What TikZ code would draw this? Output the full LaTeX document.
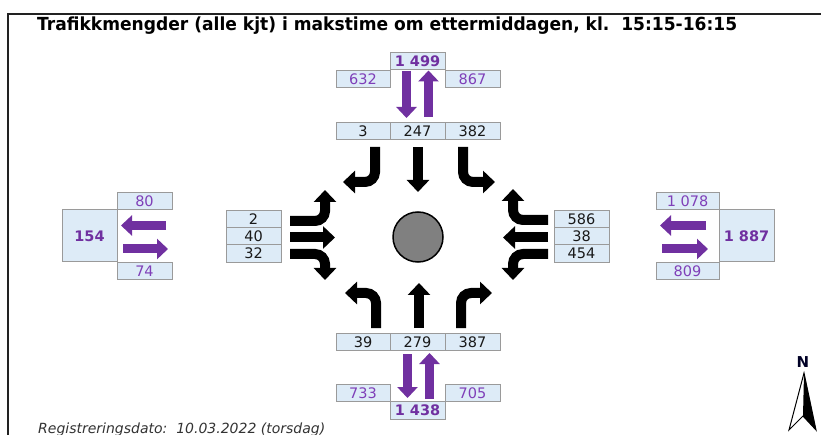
\documentclass[tikz,border=0pt]{standalone}
\usepackage{fontspec}
\setmainfont{DejaVu Sans}
\usetikzlibrary{arrows.meta}
\definecolor{boxblue}{HTML}{DDEBF7}
\definecolor{boxgray}{HTML}{9A9A9A}
\definecolor{purp}{HTML}{7030A0}
\definecolor{purptext}{HTML}{7F3FB8}
\definecolor{framec}{HTML}{222222}
\tikzset{
  cell/.style={draw=boxgray, fill=boxblue, line width=1pt, inner sep=0pt,
    minimum width=55pt, minimum height=17pt, font=\fontsize{14.5}{16}\selectfont, text=black!90},
  pcell/.style={cell, text=purptext},
  bcell/.style={cell, text=purp, font=\fontsize{14.5}{16}\selectfont\bfseries},
  blk/.style={line width=10pt, black, rounded corners=10pt,
    -{Triangle[length=12pt,width=22pt]}},
  purparrow/.style={line width=9pt, purp, -{Triangle[length=11pt,width=20pt]}}
}
\begin{document}
\begin{tikzpicture}[x=1pt,y=-1pt]
\useasboundingbox (0,0) rectangle (821,435);
\clip (0,0) rectangle (821,435);
\fill[white] (0,0) rectangle (821,435);
% frame
\draw[framec, line width=2pt] (8,445) -- (8,14) -- (830,14);
% title
\node[anchor=base west, inner sep=0pt] (title) at (37,31)
  {\resizebox{700pt}{\height}{\fontsize{18}{20}\selectfont\bfseries Trafikkmengder (alle kjt) i makstime om ettermiddagen, kl.\ \ 15:15-16:15}};
% footer
\node[anchor=base west, inner sep=0pt, text=black!80, font=\fontsize{14}{16}\selectfont\itshape] (footer) at (38,433)
  {Registreringsdato:\ \ 10.03.2022 (torsdag)};

% roundabout
\node[circle, draw=black, line width=1.5pt, fill=black!50, minimum size=50pt, inner sep=0pt] (rb) at (418,237) {};

% ---- top group
\node[bcell] (t1499) at (417.5,61.5) {1 499};
\node[pcell, minimum width=54pt] (t632) at (363,79) {632};
\node[pcell] (t867) at (472.5,79) {867};
\node[cell, minimum width=54pt] (tl) at (363,131) {3};
\node[cell] (ts) at (417.5,131) {247};
\node[cell] (tr) at (472.5,131) {382};
\draw[purparrow] (406.5,71) -- (406.5,118);
\draw[purparrow] (428.5,117) -- (428.5,70.5);
\draw[blk] (375,147) -- (375,182) -- (343,182);
\draw[blk] (418,147) -- (418,192);
\draw[blk] (463,147) -- (463,182) -- (495,182);

% ---- bottom group
\node[cell, minimum width=54pt] (bl) at (363,342) {39};
\node[cell] (bs) at (417.5,342) {279};
\node[cell] (br) at (472.5,342) {387};
\node[pcell, minimum width=54pt] (b733) at (363,393) {733};
\node[pcell] (b705) at (472.5,393) {705};
\node[bcell, minimum height=18pt] (b1438) at (417.5,410) {1 438};
\draw[purparrow] (407.5,354) -- (407.5,398);
\draw[purparrow] (429.5,399) -- (429.5,353);
\draw[blk] (376,328) -- (376,293) -- (345,293);
\draw[blk] (419,328) -- (419,283);
\draw[blk] (461,328) -- (461,293) -- (492,293);

% ---- left group
\node[bcell, minimum height=52pt] (l154) at (89.5,236) {154};
\node[pcell] (l80) at (144.5,201) {80};
\node[pcell] (l74) at (144.5,271) {74};
\draw[purparrow] (166,225.5) -- (121,225.5);
\draw[purparrow] (123,249) -- (168,249);
\node[cell, minimum height=17.5pt] (ll) at (253.5,219) {2};
\node[cell, minimum height=17pt] (ls) at (253.5,236.5) {40};
\node[cell, minimum height=17.5pt] (lr) at (253.5,253.5) {32};
\draw[blk] (290,221) -- (325,221) -- (325,190);
\draw[blk] (290,237.5) -- (335,237.5);
\draw[blk] (290,254) -- (325,254) -- (325,280);

% ---- right group
\node[pcell, minimum width=63pt] (r1078) at (687.5,201) {1 078};
\node[bcell, minimum height=52pt] (r1887) at (746.5,236) {1 887};
\node[pcell, minimum width=63pt] (r809) at (687.5,271.5) {809};
\draw[purparrow] (706,225.5) -- (660,225.5);
\draw[purparrow] (662,249) -- (708,249);
\node[cell, minimum height=17.5pt] (rl) at (581.5,219) {586};
\node[cell, minimum height=17pt] (rs) at (581.5,236.5) {38};
\node[cell, minimum height=17.5pt] (rr) at (581.5,253.5) {454};
\draw[blk] (548,220) -- (513,220) -- (513,189);
\draw[blk] (548,237.5) -- (503,237.5);
\draw[blk] (548,254) -- (513,254) -- (513,280);

% ---- compass
\node[font=\fontsize{15}{17}\selectfont\bfseries, text=black!85!blue, inner sep=0pt] (north) at (803,362) {N};
\coordinate (ntip) at (804,373);
\coordinate (nleft) at (789,430);
\coordinate (nnotch) at (803,416);
\coordinate (nright) at (816,430);
\fill[black] (ntip) -- (nnotch) -- (nright) -- cycle;
\draw[black, line width=1pt, line join=miter] (ntip) -- (nleft) -- (nnotch) -- (nright) -- cycle;
\end{tikzpicture}
\end{document}
